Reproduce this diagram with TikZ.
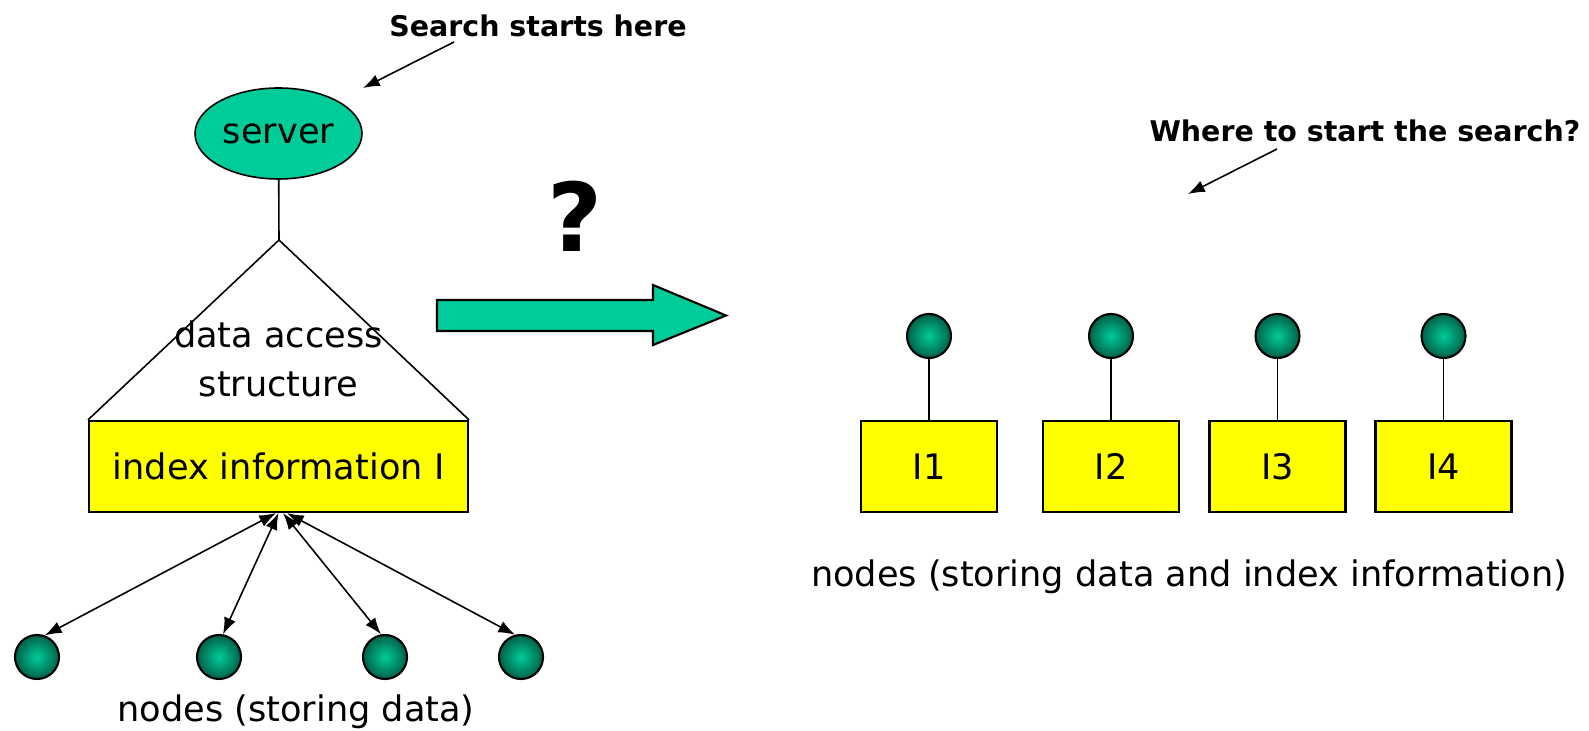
\documentclass[tikz,border=0pt]{standalone}
\usepackage{fontspec}
\setmainfont{DejaVu Sans}
\usetikzlibrary{shapes.geometric,arrows.meta}
\definecolor{seagreen}{RGB}{0,204,153}
\definecolor{deepgreen}{RGB}{0,96,72}
\definecolor{boxyellow}{RGB}{255,255,0}

\begin{document}
\begin{tikzpicture}[line width=0.9pt, >={Latex[length=9.5pt,width=7pt]}, node distance=2.5cm]
    \tikzstyle{plain text}=[font=\fontsize{20}{28}\selectfont]
    \tikzstyle{note}=[font=\fontsize{16.2}{19}\selectfont\bfseries]
    \tikzstyle{server}=[ellipse, draw, fill=seagreen, minimum width=3.34cm, minimum height=1.82cm, inner sep=0pt, plain text]
    \tikzstyle{peer}=[circle, draw, line width=1.2pt, shading=radial, inner color=seagreen, outer color=deepgreen, minimum size=0.88cm, inner sep=0pt]
    \tikzstyle{index}=[rectangle, draw, line width=1.2pt, fill=boxyellow, minimum height=1.82cm, inner sep=0pt, plain text]
    \tikzstyle{link}=[<->]

    \useasboundingbox (0,0) rectangle (31.78,-14.62);

    % Draw the server with its access structure
    \node[server] (srv) at (5.57,-2.67) {server};
    \coordinate (top) at (5.58,-4.80);
    \node[index, minimum width=7.58cm] (idx) at (5.57,-9.33) {index information I};
    \draw (srv) -- (top);
    \draw (idx.north west) -- (top) -- (idx.north east);
    \node[plain text, align=center] (das) at (5.57,-7.18) {data access\\structure};

    % Draw the data nodes below the index
    \foreach \name / \x in {1/0.74, 2/4.38, 3/7.70, 4/10.42}
        \node[peer] (P-\name) at (\x,-13.14) {};
    \foreach \name / \dx / \a in {1/-0.05/70, 2/0/80, 3/0.09/100, 4/0.17/105}
        \draw[link] ([xshift=\dx cm]idx.south) -- (P-\name.\a);
    \node[plain text] (bl) at (5.92,-14.24) {nodes (storing data)};

    % Annotate the server
    \node[note] (srch) at (10.76,-0.52) {Search starts here};
    \coordinate (s-from) at (9.08,-0.84);
    \coordinate (s-to) at (7.26,-1.76);
    \draw[->] (s-from) -- (s-to);

    % Question mark and big arrow in between
    \node[font=\fontsize{54}{60}\selectfont\bfseries] (qm) at (11.5,-4.33) {?};
    \draw[fill=seagreen, line width=1.2pt] (8.74,-6.00) -- (13.06,-6.00) -- (13.06,-5.70)
        -- (14.52,-6.31) -- (13.06,-6.90) -- (13.06,-6.62) -- (8.74,-6.62) -- cycle;

    % Draw the nodes holding their own index
    \foreach \name / \x in {1/18.58, 2/22.22, 3/25.55, 4/28.87}
    {
        \node[index, minimum width=2.72cm] (I-\name) at (\x,-9.33) {I\name};
        \node[peer, above of=I-\name, node distance=2.61cm] (Q-\name) {};
        \draw (Q-\name) -- (I-\name);
    }
    \node[plain text] (br) at (23.78,-11.54) {nodes (storing data and index information)};

    % Annotate the open question
    \node[note] (wh) at (27.30,-2.62) {Where to start the search?};
    \coordinate (w-from) at (25.54,-2.98);
    \coordinate (w-to) at (23.76,-3.88);
    \draw[->] (w-from) -- (w-to);
\end{tikzpicture}
\end{document}
